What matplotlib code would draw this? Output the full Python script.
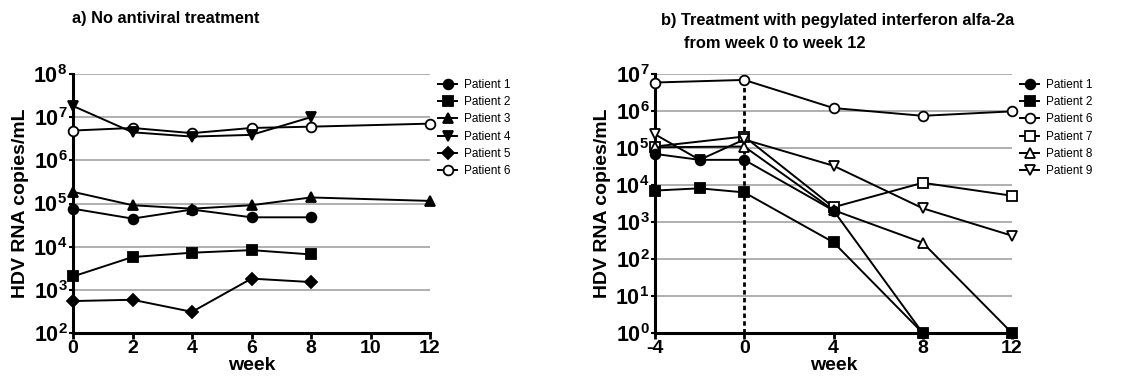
import matplotlib
matplotlib.use("Agg")
import matplotlib.pyplot as plt
import numpy as np

plt.rcParams['font.family'] = ['Liberation Sans', 'DejaVu Sans']
plt.rcParams['mathtext.fontset'] = 'custom'
plt.rcParams['mathtext.bf'] = 'Liberation Sans:bold'
plt.rcParams['mathtext.rm'] = 'Liberation Sans:bold'

# ---- data (log10 HDV RNA copies/mL) ----
# a) no antiviral treatment
weeks_a = {
    'Patient 1': [0, 2, 4, 6, 8],
    'Patient 2': [0, 2, 4, 6, 8],
    'Patient 3': [0, 2, 4, 6, 8, 12],
    'Patient 4': [0, 2, 4, 6, 8],
    'Patient 5': [0, 2, 4, 6, 8],
    'Patient 6': [0, 2, 4, 6, 8, 12],
}
log_a = {
    'Patient 1': [4.88, 4.65, 4.86, 4.68, 4.68],
    'Patient 2': [3.31, 3.76, 3.86, 3.92, 3.82],
    'Patient 3': [5.27, 4.96, 4.88, 4.96, 5.14, 5.06],
    'Patient 4': [7.26, 6.65, 6.55, 6.59, 7.0],
    'Patient 5': [2.74, 2.77, 2.49, 3.26, 3.18],
    'Patient 6': [6.69, 6.75, 6.63, 6.75, 6.78, 6.85],
}
# b) pegylated interferon alfa-2a, week 0 to 12
weeks_b = {
    'Patient 1': [-4, -2, 0, 4, 8],
    'Patient 2': [-4, -2, 0, 4, 8, 12],
    'Patient 6': [-4, 0, 4, 8, 12],
    'Patient 7': [-4, 0, 4, 8, 12],
    'Patient 8': [-4, 0, 4, 8, 12],
    'Patient 9': [-4, -2, 0, 4, 8, 12],
}
log_b = {
    'Patient 1': [4.84, 4.68, 4.68, 3.31, 0.0],
    'Patient 2': [3.85, 3.91, 3.80, 2.45, 0.0, 0.0],
    'Patient 6': [6.77, 6.84, 6.08, 5.87, 5.99],
    'Patient 7': [5.04, 5.31, 3.40, 4.06, 3.71],
    'Patient 8': [5.02, 5.04, 3.32, 2.44, 0.0],
    'Patient 9': [5.37, 4.68, 5.23, 4.52, 3.37, 2.63],
}

xticks_a = [0, 2, 4, 6, 8, 10, 12]
xticks_b = [-4, 0, 4, 8, 12]
decades_a = [2, 3, 4, 5, 6, 7, 8]
decades_b = [0, 1, 2, 3, 4, 5, 6, 7]

style = {
    'Patient 1': ('o', 'black'),
    'Patient 2': ('s', 'black'),
    'Patient 3': ('^', 'black'),
    'Patient 4': ('v', 'black'),
    'Patient 5': ('D', 'black'),
    'Patient 6': ('o', 'white'),
    'Patient 7': ('s', 'white'),
    'Patient 8': ('^', 'white'),
    'Patient 9': ('v', 'white'),
}

fig = plt.figure(figsize=(11.38, 3.8), dpi=100)
ax1 = fig.add_axes([73/1138, 47/380, 357/1138, 259/380])
ax2 = fig.add_axes([655/1138, 47/380, 357/1138, 259/380])


def setup(ax, weeks, logs, xticks, decades):
    for d in decades[1:]:
        ax.axhline(10.0**d, color='#9a9a9a', lw=1.1, zorder=0)
    for name in weeks:
        m, fc = style[name]
        ms = 6 if m == 'D' else 7
        z = 4 if fc == 'black' else 3
        ax.plot(weeks[name], 10.0**np.array(logs[name]), color='black', lw=1.4,
                marker=m, markersize=ms, markerfacecolor=fc, markeredgecolor='black',
                markeredgewidth=1.3, label=name, clip_on=False, zorder=z)
    ax.set_yscale('log')
    ax.set_ylim(10.0**decades[0], 10.0**decades[-1])
    ax.set_xlim(xticks[0], xticks[-1])
    ax.set_xticks(xticks)
    ax.set_xticklabels([str(t) for t in xticks], fontsize=14, fontweight='bold')
    ax.set_yticks([10.0**d for d in decades])
    ax.set_yticklabels([r'$\mathbf{10^{%d}}$' % d for d in decades], fontsize=15.5)
    ax.yaxis.set_minor_locator(matplotlib.ticker.NullLocator())
    for s in ['top', 'right']:
        ax.spines[s].set_visible(False)
    for s in ['left', 'bottom']:
        ax.spines[s].set_linewidth(2.2)
    ax.tick_params(axis='x', width=2, length=4, pad=1)
    ax.tick_params(axis='y', width=1.5, length=3, pad=1)
    ax.set_xlabel('week', fontsize=14, fontweight='bold', labelpad=0)
    ax.set_ylabel('HDV RNA copies/mL', fontsize=14, fontweight='bold', labelpad=3)
    ax.legend(loc='upper left', bbox_to_anchor=(1.01, 1.0), frameon=False,
              fontsize=8.5, handlelength=1.6, handletextpad=0.6, labelspacing=0.45,
              borderaxespad=0)


setup(ax1, weeks_a, log_a, xticks_a, decades_a)
setup(ax2, weeks_b, log_b, xticks_b, decades_b)

# treatment start marker
ax2.vlines(0, 1, 10.0**log_b['Patient 6'][1], colors='black', linestyles=(0, (1.6, 1.2)),
           lw=2, zorder=2)

fig.text(72/1138, 1 - 18/380, 'a) No antiviral treatment', fontsize=11.8,
         fontweight='bold', va='center', ha='left')
fig.text(661/1138, 1 - 20/380, 'b) Treatment with pegylated interferon alfa-2a',
         fontsize=11.8, fontweight='bold', va='center', ha='left')
fig.text(684/1138, 1 - 43/380, 'from week 0 to week 12', fontsize=11.8,
         fontweight='bold', va='center', ha='left')

fig.savefig('out.png', dpi=100)
